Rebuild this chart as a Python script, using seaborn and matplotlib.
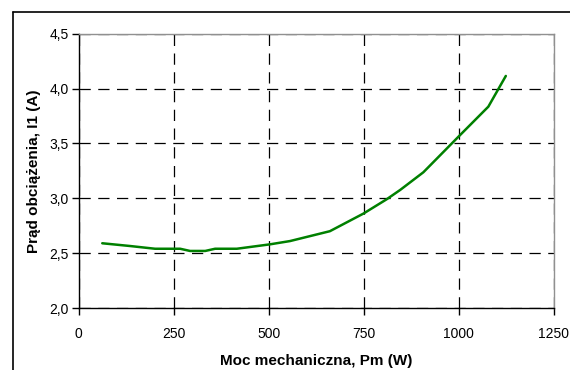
import matplotlib
matplotlib.use("Agg")
import matplotlib.pyplot as plt
from matplotlib.lines import Line2D
from matplotlib.ticker import FuncFormatter, MultipleLocator
import seaborn as sns
import pandas as pd

power_w = [62, 135, 201, 267, 293, 333, 359, 416, 503, 556, 661, 749, 810, 846, 907, 999, 1078, 1124]
current_a = [2.59, 2.565, 2.54, 2.54, 2.52, 2.52, 2.54, 2.54, 2.58, 2.61, 2.70, 2.86, 2.99, 3.076, 3.237, 3.56, 3.835, 4.115]
x_label = "Moc mechaniczna, Pm (W)"
y_label = "Prąd obciążenia, I1 (A)"

sns.set_style("white")
plt.rcParams['font.family'] = ['Liberation Sans', 'DejaVu Sans']
plt.rcParams['text.color'] = 'black'
plt.rcParams['axes.labelcolor'] = 'black'
plt.rcParams['xtick.color'] = 'black'
plt.rcParams['ytick.color'] = 'black'

df = pd.DataFrame({"P": power_w, "I": current_a})

fig = plt.figure(figsize=(5.7, 3.7), dpi=100)
ax = fig.add_axes([78.7/570, 1 - 308/370, (553.7-78.7)/570, (308-33.7)/370])

sns.lineplot(data=df, x="P", y="I", ax=ax, color="#008000", linewidth=1.8, sort=False)

ax.set_xlim(0, 1250)
ax.set_ylim(2.0, 4.5)
ax.xaxis.set_major_locator(MultipleLocator(250))
ax.yaxis.set_major_locator(MultipleLocator(0.5))
ax.yaxis.set_major_formatter(FuncFormatter(lambda v, p: f"{v:.1f}".replace(".", ",")))
ax.grid(True, color="black", linestyle=(0, (9, 6)), linewidth=0.9)
ax.set_axisbelow(True)

for s in ["top", "right"]:
    ax.spines[s].set_color("#909090")
    ax.spines[s].set_linewidth(1.0)
for s in ["left", "bottom"]:
    ax.spines[s].set_color("black")
    ax.spines[s].set_linewidth(1.0)

ax.tick_params(axis="both", which="major", direction="out", length=5, width=1, color="black",
               labelcolor="black", labelsize=10, pad=2)
ax.tick_params(axis="x", pad=9)
ax.xaxis.set_ticks_position("bottom")
ax.yaxis.set_ticks_position("left")

ax.set_xlabel(x_label, fontsize=11, fontweight="bold", labelpad=9, color="black")
ax.set_ylabel(y_label, fontsize=11, fontweight="bold", labelpad=6, color="black")

# outer chart frame (partially visible: top and left edges)
fig.add_artist(Line2D([12.5/570, 1.0], [1 - 12/370, 1 - 12/370], transform=fig.transFigure,
                      color="black", linewidth=1.2))
fig.add_artist(Line2D([12.5/570, 12.5/570], [0.0, 1 - 12/370], transform=fig.transFigure,
                      color="black", linewidth=1.2))

fig.savefig("out.png", dpi=100)
